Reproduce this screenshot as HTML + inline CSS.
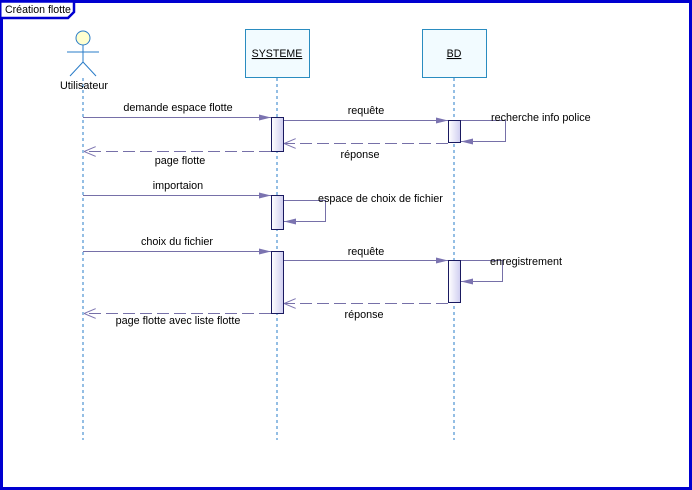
<!DOCTYPE html>
<html><head><style>
body{margin:0;background:#fff}
svg{display:block;font-family:"Liberation Sans",sans-serif;font-size:10.6px}
</style></head><body>
<svg width="692" height="490" xmlns="http://www.w3.org/2000/svg">
<defs>
<linearGradient id="ag" x1="0" x2="1"><stop offset="0" stop-color="#fff"/><stop offset="1" stop-color="#cfcdf0"/></linearGradient>
<marker id="f" markerWidth="12" markerHeight="8" refX="12" refY="4" orient="auto" markerUnits="userSpaceOnUse"><path d="M0,1 L12,4 L0,7 Z" fill="#7b73b0"/></marker>
<marker id="o" markerWidth="12" markerHeight="10" refX="12" refY="5" orient="auto" markerUnits="userSpaceOnUse"><path d="M0,0 L12,5 L0,10" fill="none" stroke="#7b73b0"/></marker>
</defs>
<rect x="1.5" y="1.5" width="689" height="487" fill="#fff" stroke="#0000d0" stroke-width="3"/>
<path d="M1.5,1.5 H74 V12 L68,18 H1.5" fill="#fff" stroke="#0000d0" stroke-width="2.5"/>
<text x="5" y="13" font-size="10.6">Création flotte</text>
<g stroke="#2a7cc8" stroke-dasharray="3,3">
<line x1="83" y1="78" x2="83" y2="440"/><line x1="277" y1="78" x2="277" y2="440"/><line x1="454" y1="78" x2="454" y2="440"/>
</g>
<circle cx="83" cy="38" r="7" fill="#ffffd0" stroke="#2a7cc8"/>
<g stroke="#2a7cc8"><line x1="83" y1="45" x2="83" y2="62"/><line x1="67" y1="52" x2="99" y2="52"/><line x1="83" y1="62" x2="70" y2="76"/><line x1="83" y1="62" x2="96" y2="76"/></g>
<text x="84" y="89" text-anchor="middle" font-size="10.8">Utilisateur</text>
<rect x="245.5" y="29.5" width="64" height="48" fill="#f2fbff" stroke="#2a8cc0"/>
<text x="277" y="57" text-anchor="middle" text-decoration="underline">SYSTEME</text>
<rect x="422.5" y="29.5" width="64" height="48" fill="#f2fbff" stroke="#2a8cc0"/>
<text x="454" y="57" text-anchor="middle" text-decoration="underline">BD</text>
<g fill="url(#ag)" stroke="#1a1a60">
<rect x="271.5" y="117.5" width="12" height="34"/>
<rect x="448.5" y="120.5" width="12" height="22"/>
<rect x="271.5" y="195.5" width="12" height="34"/>
<rect x="271.5" y="251.5" width="12" height="62"/>
<rect x="448.5" y="260.5" width="12" height="42"/>
</g>
<g stroke="#7670a8" fill="none">
<line x1="83" y1="117.5" x2="271" y2="117.5" marker-end="url(#f)"/>
<line x1="284" y1="120.5" x2="448" y2="120.5" marker-end="url(#f)"/>
<polyline points="461,120.5 505.5,120.5 505.5,141.5 461,141.5" marker-end="url(#f)"/>
<line x1="448" y1="143.5" x2="284" y2="143.5" stroke-dasharray="12,5" marker-end="url(#o)"/>
<line x1="271" y1="151.5" x2="84" y2="151.5" stroke-dasharray="12,5" marker-end="url(#o)"/>
<line x1="83" y1="195.5" x2="271" y2="195.5" marker-end="url(#f)"/>
<polyline points="284,200.5 325.5,200.5 325.5,221.5 284,221.5" marker-end="url(#f)"/>
<line x1="83" y1="251.5" x2="271" y2="251.5" marker-end="url(#f)"/>
<line x1="284" y1="260.5" x2="448" y2="260.5" marker-end="url(#f)"/>
<polyline points="461,260.5 502.5,260.5 502.5,281.5 461,281.5" marker-end="url(#f)"/>
<line x1="448" y1="303.5" x2="284" y2="303.5" stroke-dasharray="12,5" marker-end="url(#o)"/>
<line x1="271" y1="313.5" x2="84" y2="313.5" stroke-dasharray="12,5" marker-end="url(#o)"/>
</g>
<g font-size="10.8" fill="#000">
<text x="178" y="111" text-anchor="middle">demande espace flotte</text>
<text x="366" y="114" text-anchor="middle">requête</text>
<text x="491" y="121">recherche info police</text>
<text x="360" y="158" text-anchor="middle">réponse</text>
<text x="180" y="164" text-anchor="middle">page flotte</text>
<text x="178" y="189" text-anchor="middle">importaion</text>
<text x="318" y="202">espace de choix de fichier</text>
<text x="177" y="245" text-anchor="middle">choix du fichier</text>
<text x="366" y="255" text-anchor="middle">requête</text>
<text x="490" y="265">enregistrement</text>
<text x="364" y="318" text-anchor="middle">réponse</text>
<text x="178" y="324" text-anchor="middle">page flotte avec liste flotte</text>
</g>
</svg>
</body></html>
